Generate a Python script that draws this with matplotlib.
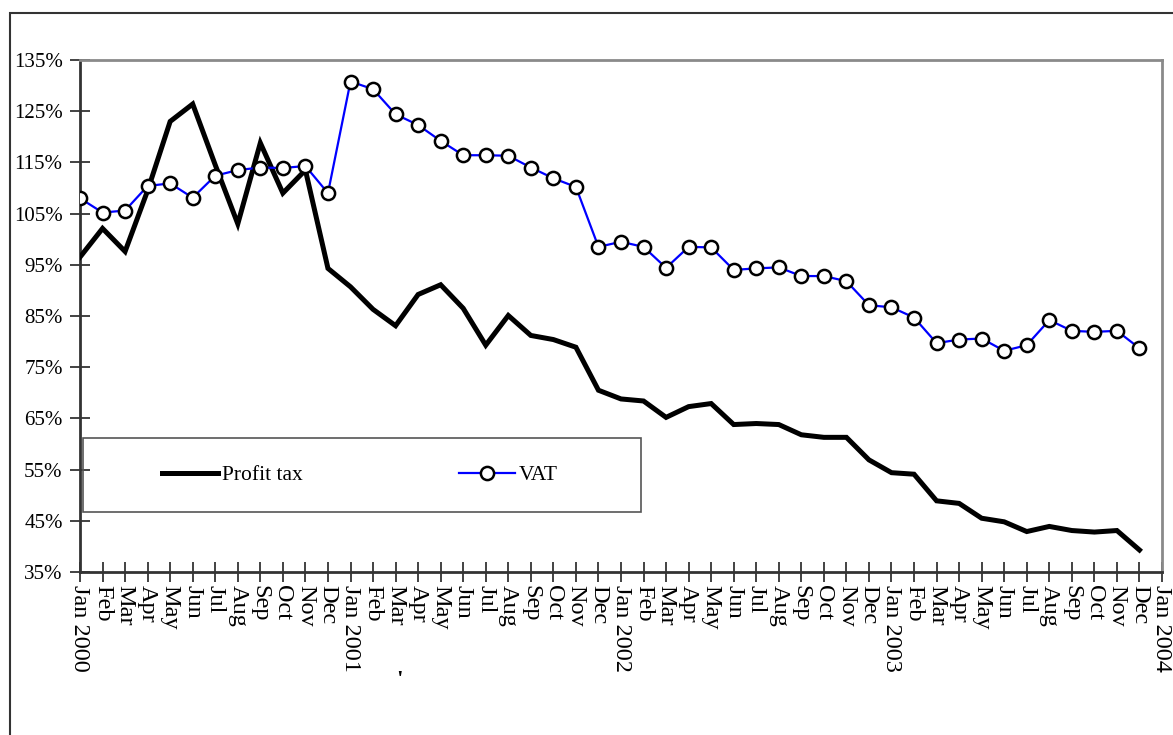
import matplotlib
matplotlib.use('Agg')
import matplotlib.pyplot as plt
from matplotlib.patches import Rectangle
from matplotlib.lines import Line2D

plt.rcParams['font.family'] = ['Liberation Serif', 'DejaVu Serif']

month_names = ['Jan', 'Feb', 'Mar', 'Apr', 'May', 'Jun',
               'Jul', 'Aug', 'Sep', 'Oct', 'Nov', 'Dec']
years = [2000, 2001, 2002, 2003, 2004]
tick_labels = []
for yr in years[:-1]:
    tick_labels.append(f'Jan {yr}')
    tick_labels += month_names[1:]
tick_labels.append(f'Jan {years[-1]}')

profit_tax = [96.5, 102.1, 97.6, 109.5, 123.0, 126.4, 114.5, 103.0, 118.8, 109.0, 113.5, 94.3,
              90.7, 86.3, 83.1, 89.2, 91.1, 86.5, 79.3, 85.1, 81.2, 80.4, 78.9, 70.5,
              68.8, 68.4, 65.2, 67.3, 67.9, 63.8, 64.0, 63.8, 61.8, 61.3, 61.3, 56.9,
              54.4, 54.1, 48.9, 48.4, 45.5, 44.8, 42.9, 43.9, 43.1, 42.8, 43.1, 39.3]
vat = [108.0, 105.2, 105.6, 110.4, 110.9, 108.1, 112.4, 113.5, 114.0, 113.9, 114.3, 109.0,
       130.8, 129.3, 124.4, 122.3, 119.2, 116.4, 116.4, 116.3, 114.0, 111.9, 110.2, 98.5,
       99.5, 98.5, 94.4, 98.5, 98.4, 94.0, 94.3, 94.5, 92.8, 92.8, 91.8, 87.1,
       86.7, 84.7, 79.7, 80.4, 80.6, 78.2, 79.3, 84.2, 82.1, 81.9, 82.1, 78.7]
y_ticks = [35, 45, 55, 65, 75, 85, 95, 105, 115, 125, 135]
series_names = ['Profit tax', 'VAT']

W, H = 1173, 735
fig = plt.figure(figsize=(W / 100, H / 100), dpi=100)
ax = fig.add_axes([80 / W, 1 - 572 / H, (1162 - 80) / W, 512 / H])

x = list(range(len(profit_tax)))
ax.plot(x, profit_tax, color='black', lw=3.6, solid_joinstyle='miter', zorder=3)
ax.plot(x, vat, color='#0000ff', lw=1.6, marker='o', markersize=9.5,
        markerfacecolor='white', markeredgecolor='black', markeredgewidth=1.8, zorder=4)

ax.set_xlim(0, len(tick_labels) - 1)
ax.set_ylim(35, 135)
ax.set_xticks(range(len(tick_labels)))
ax.set_xticklabels(tick_labels, rotation=270, fontsize=17.5, va='top', ha='center')
ax.set_yticks(y_ticks)
ax.set_yticklabels([f'{v}%' for v in y_ticks], fontsize=15)
ax.tick_params(axis='x', direction='inout', length=15, width=1.2, color='#222', pad=2)
ax.tick_params(axis='y', direction='inout', length=14, width=1.2, color='#222', pad=5.5)

for s in ['left', 'bottom']:
    ax.spines[s].set_color('#333333')
    ax.spines[s].set_linewidth(2)
for s in ['top', 'right']:
    ax.spines[s].set_color('#8a8a8a')
    ax.spines[s].set_linewidth(2)

# legend box
fig.patches.append(Rectangle((83 / W, 1 - 512 / H), (641 - 83) / W, 74 / H,
                             transform=fig.transFigure, fill=False,
                             ec='#555555', lw=1.2, zorder=5))
handles = [Line2D([], [], color='black', lw=3.6),
           Line2D([], [], color='#0000ff', lw=1.6, marker='o', markersize=9.5,
                  markerfacecolor='white', markeredgecolor='black', markeredgewidth=1.8)]
ax.legend(handles, series_names, loc='center', bbox_to_anchor=(360 / W, 1 - 475 / H),
          bbox_transform=fig.transFigure, ncol=2, frameon=False, numpoints=1,
          handlelength=2.6, handletextpad=0.15, columnspacing=7.3,
          prop={'family': 'Liberation Serif', 'size': 15.5})

# outer border of the chart
fig.patches.append(Rectangle((10 / W, -0.1), 1.2, 1 - 13 / H + 0.1,
                             transform=fig.transFigure, fill=False,
                             ec='#333333', lw=1.5, clip_on=False))

fig.text(400 / W, 1 - 680 / H, "'", fontsize=17, fontweight='bold', ha='center', va='center')

fig.savefig('out.png', dpi=100)
